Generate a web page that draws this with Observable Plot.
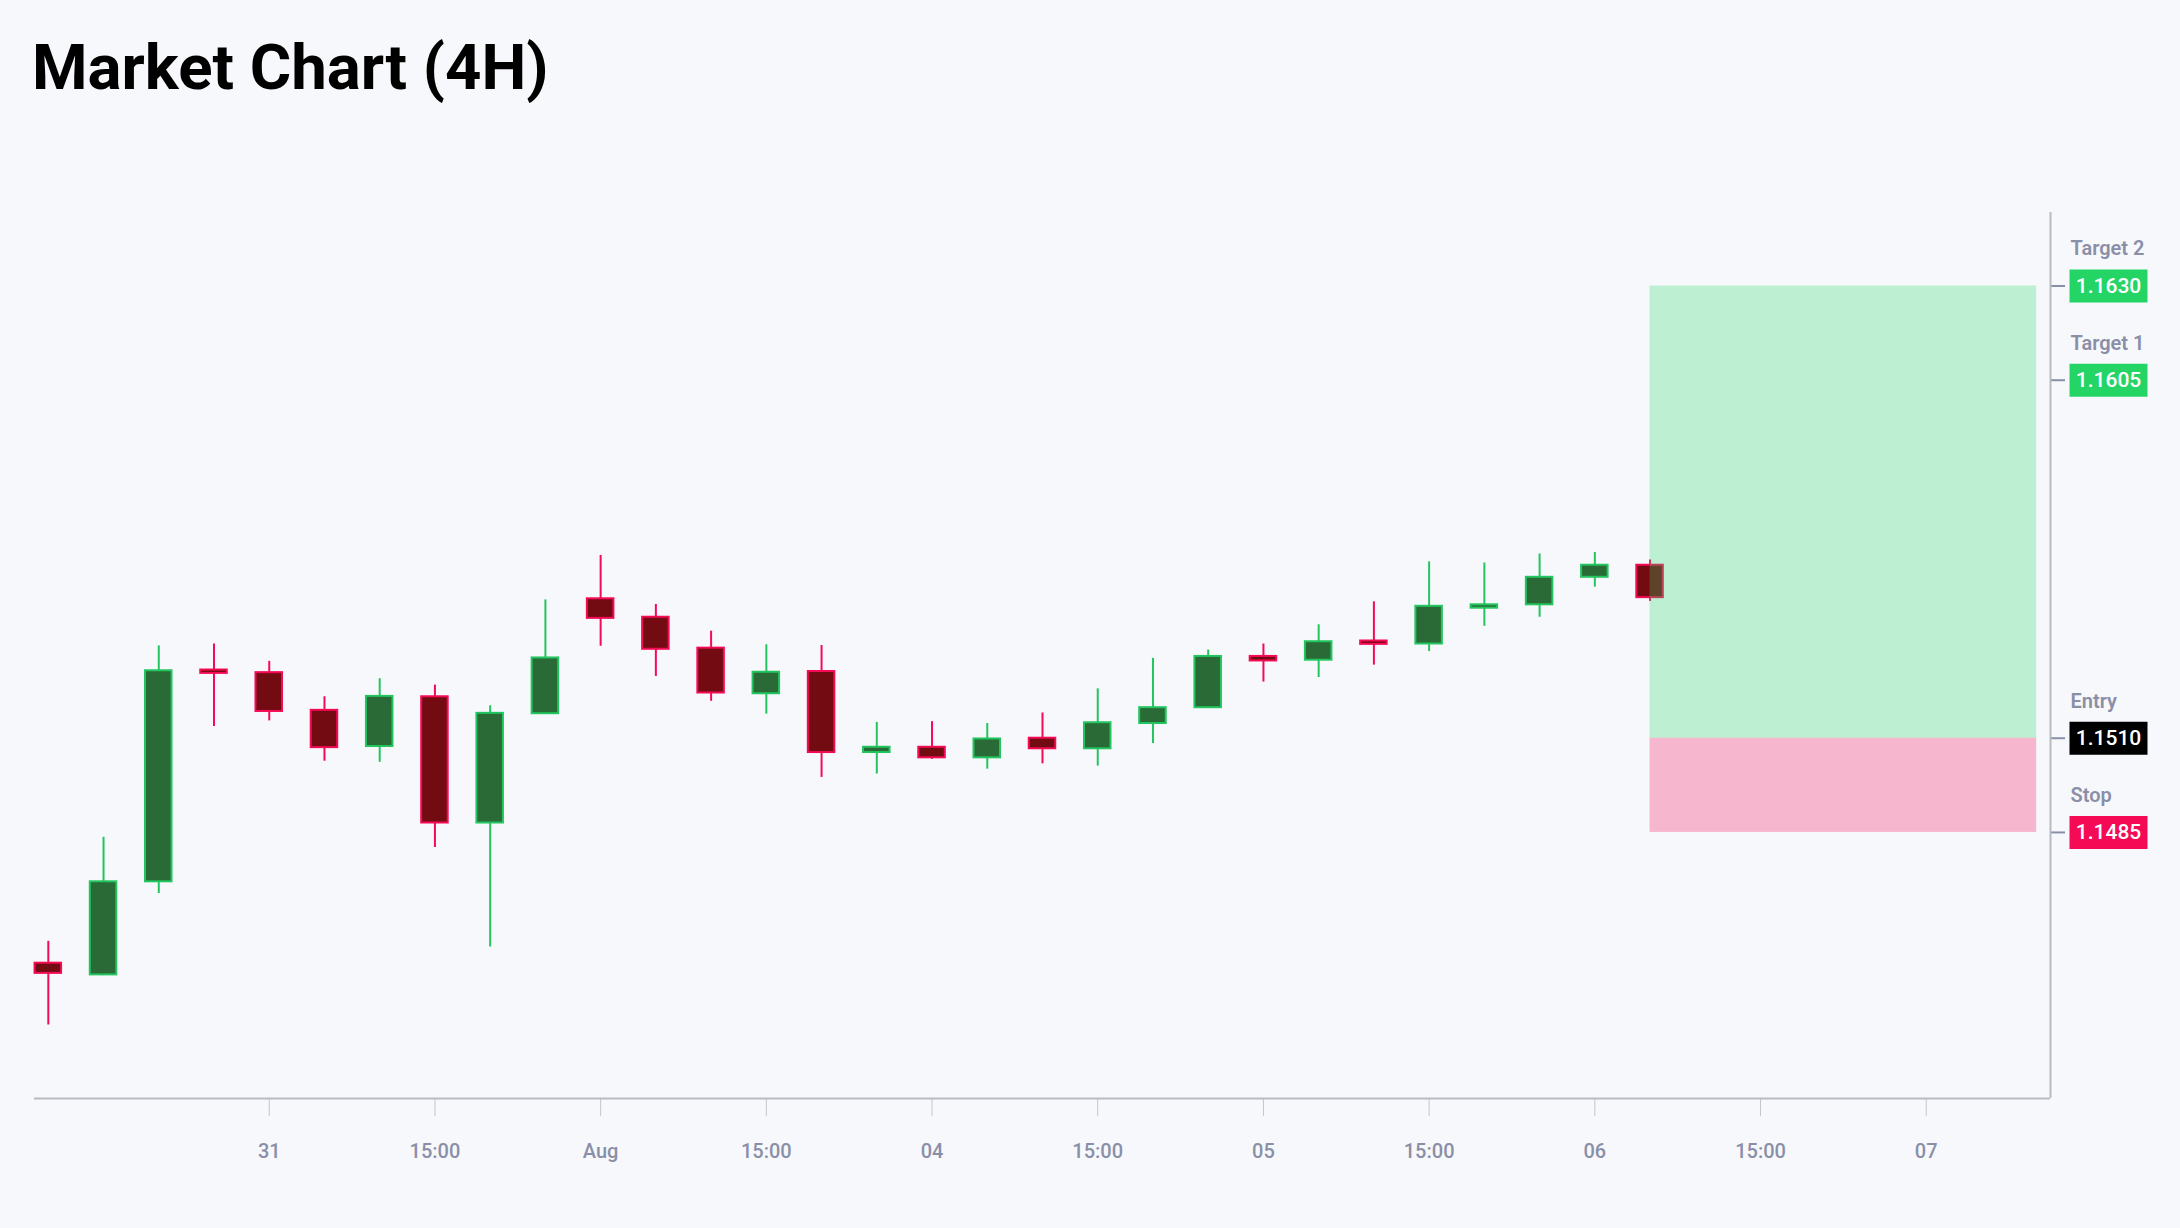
<!DOCTYPE html>
<html>
<head>
<meta charset="utf-8">
<script src="https://cdn.jsdelivr.net/npm/d3@7"></script>
<script src="https://cdn.jsdelivr.net/npm/@observablehq/plot@0.6"></script>
<style>
html,body{margin:0;padding:0;background:#f7f8fc;}
body{width:2180px;height:1228px;overflow:hidden;font-family:Roboto,sans-serif;}
#header{position:relative;height:120px;}
#title{position:absolute;left:32px;top:36px;margin:0;font-size:63.5px;line-height:1;font-weight:700;color:#000;font-family:Roboto,sans-serif;}
#chart svg{display:block;}
</style>
</head>
<body>
<div id="header"><h1 id="title">Market Chart (4H)</h1></div>
<div id="chart"></div>
<script>
// ---- data ----
const opens  = [1.14503,1.14472,1.14719,1.15281,1.15274,1.15174,1.15078,1.15210,1.14875,1.15165,
                1.15470,1.15421,1.15339,1.15218,1.15277,1.15062,1.15076,1.15048,1.15100,1.15072,
                1.15139,1.15181,1.15317,1.15307,1.15358,1.15350,1.15445,1.15454,1.15527,1.15559];
const highs  = [1.14561,1.14837,1.15345,1.15350,1.15304,1.15210,1.15258,1.15241,1.15186,1.15467,
                1.15585,1.15455,1.15384,1.15348,1.15346,1.15142,1.15144,1.15139,1.15167,1.15231,
                1.15312,1.15334,1.15350,1.15401,1.15462,1.15568,1.15565,1.15589,1.15593,1.15573];
const lows   = [1.14339,1.14470,1.14688,1.15131,1.15146,1.15039,1.15036,1.14810,1.14546,1.15164,
                1.15344,1.15264,1.15198,1.15164,1.14996,1.15005,1.15044,1.15018,1.15032,1.15026,
                1.15086,1.15181,1.15249,1.15261,1.15294,1.15330,1.15397,1.15421,1.15501,1.15463];
const closes = [1.14476,1.14719,1.15279,1.15272,1.15171,1.15075,1.15211,1.14875,1.15166,1.15313,
                1.15418,1.15336,1.15220,1.15275,1.15062,1.15076,1.15048,1.15098,1.15072,1.15141,
                1.15181,1.15317,1.15305,1.15356,1.15349,1.15450,1.15454,1.15527,1.15559,1.15473];

const tickIndex  = [4,7,10,13,16,19,22,25,28,31,34];
const tickLabels = ["31","15:00","Aug","15:00","04","15:00","05","15:00","06","15:00","07"];

const levelNames  = ["Target 2","Target 1","Entry","Stop"];
const levelValues = [1.1630,1.1605,1.1510,1.1485];
const levelText   = ["1.1630","1.1605","1.1510","1.1485"];

const zoneStart = 29, zoneEnd = 36;
const entryPrice = 1.1510, stopPrice = 1.1485, targetPrice = 1.1630;

const xDomain = [-0.25, 36.25];
const yDomain = [1.14144, 1.16495];

// ---- derived tables ----
const candles = opens.map((o,i)=>({i, open:o, high:highs[i], low:lows[i], close:closes[i]}));
const levels = levelNames.map((name,k)=>({name, value:levelValues[k], label:levelText[k]}));
const zones = [
  {kind:"reward", x1:zoneStart, x2:zoneEnd, y1:entryPrice, y2:targetPrice},
  {kind:"risk",   x1:zoneStart, x2:zoneEnd, y1:stopPrice,  y2:entryPrice}
];

// ---- styles ----
const UP_STROKE="#22c55e", UP_FILL="#2a6a37", DN_STROKE="#f50a55", DN_FILL="#730b12";
const ZONE_GREEN="#28d866", ZONE_RED="#f50a55";
const levelColor = {"Target 2":"#24d566","Target 1":"#24d566","Entry":"#000000","Stop":"#f50a55"};
const GRAY_TEXT="#8a8fa8", AXIS_LINE="#b9bac2", TICK_LINE="#c4c5cc";
const up = d => d.close >= d.open;
const boxSymbol = {draw(ctx){ ctx.rect(-39,-16.5,78,33); }};

const chart = Plot.plot({
  width:2180, height:1108,
  marginTop:92, marginBottom:130, marginLeft:34, marginRight:130,
  x:{type:"linear", domain:xDomain},
  y:{type:"linear", domain:yDomain},
  color:{type:"identity"},
  style:{background:"#f7f8fc", fontFamily:"Roboto, sans-serif", overflow:"visible"},
  marks:[
    Plot.axisX({ticks:tickIndex, tickFormat:d => tickLabels[tickIndex.indexOf(d)],
      tickSize:18, tickPadding:27, stroke:TICK_LINE, fill:GRAY_TEXT, fontSize:20, fontWeight:500, label:null}),
    Plot.axisY({anchor:"right", ticks:levelValues, tickSize:14, stroke:GRAY_TEXT,
      strokeWidth:2, fill:"none", label:null}),
    Plot.ruleY([yDomain[0]], {stroke:AXIS_LINE, strokeWidth:2}),
    Plot.ruleX([xDomain[1]], {stroke:AXIS_LINE, strokeWidth:2}),
    Plot.ruleX(candles, {x:"i", y1:"low", y2:"high",
      stroke:d => up(d) ? UP_STROKE : DN_STROKE, strokeWidth:2}),
    Plot.rect(candles, {x1:d => d.i - 0.24, x2:d => d.i + 0.24, y1:"open", y2:"close",
      fill:d => up(d) ? UP_FILL : DN_FILL, stroke:d => up(d) ? UP_STROKE : DN_STROKE, strokeWidth:2}),
    Plot.rect(zones, {x1:"x1", x2:"x2", y1:"y1", y2:"y2",
      fill:d => d.kind === "reward" ? ZONE_GREEN : ZONE_RED, fillOpacity:0.28}),
    Plot.text(levels, {y:"value", text:"name", frameAnchor:"right", dx:20, dy:-37,
      textAnchor:"start", fill:GRAY_TEXT, fontSize:20, fontWeight:600}),
    Plot.dot(levels, {y:"value", frameAnchor:"right", dx:58, symbol:boxSymbol,
      fill:d => levelColor[d.name], stroke:"none"}),
    Plot.text(levels, {y:"value", text:"label", frameAnchor:"right", dx:58, textAnchor:"middle",
      fill:"#ffffff", fontSize:21, fontWeight:500})
  ]
});
document.getElementById("chart").appendChild(chart);
</script>
</body>
</html>
